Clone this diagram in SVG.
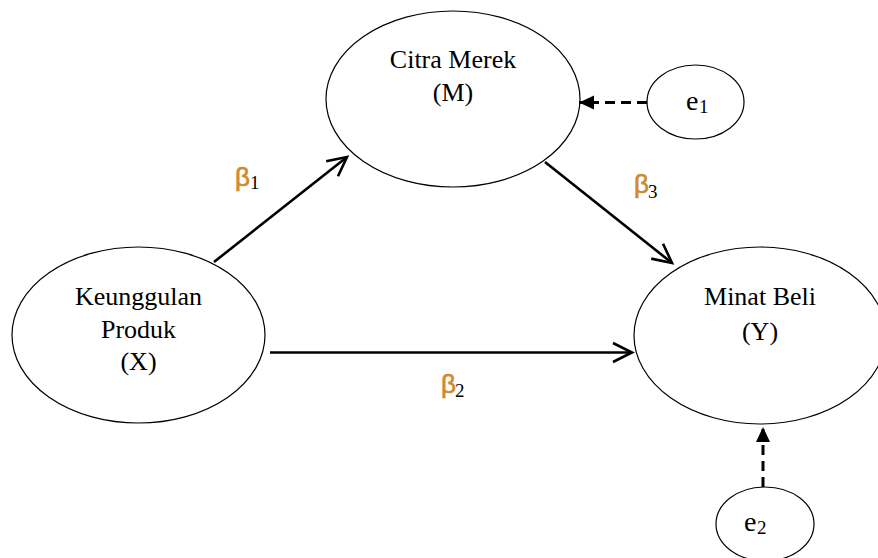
<svg xmlns="http://www.w3.org/2000/svg" width="878" height="558" viewBox="0 0 878 558">
<style>
.node ellipse{fill:#fff;stroke:#000;stroke-width:1.2}
.lbl{font-family:"Liberation Serif","Times New Roman",serif;font-size:26px;fill:#000;text-anchor:middle}
.e{font-family:"Liberation Serif","Times New Roman",serif;font-size:28px;fill:#000}
.sub{font-family:"Liberation Serif","Times New Roman",serif;font-size:19px;fill:#000}
.beta{font-family:"Liberation Sans",Arial,sans-serif;font-size:26px;fill:#cf8a30;stroke:#cf8a30;stroke-width:0.7}
.solid{stroke:#000;stroke-width:2.6;fill:none;marker-end:url(#open)}
.dash{stroke:#000;stroke-width:3;fill:none;stroke-dasharray:10 6;marker-end:url(#tri)}
</style>
<defs>
<marker id="open" markerUnits="userSpaceOnUse" viewBox="-3 -13 26 26" markerWidth="26" markerHeight="26" refX="19" refY="0" orient="auto">
<path d="M0,-9.5 L19,0 L0,9.5" fill="none" stroke="#000" stroke-width="2.6" stroke-linejoin="miter"/>
</marker>
<marker id="tri" markerUnits="userSpaceOnUse" viewBox="0 -8 16 16" markerWidth="16" markerHeight="16" refX="15" refY="0" orient="auto">
<path d="M0,-7 L15,0 L0,7 z" fill="#000"/>
</marker>
</defs>
<rect width="878" height="558" fill="#fff"/>
<g id="M" class="node">
<ellipse cx="453" cy="99" rx="127" ry="88"/>
<text class="lbl" x="453" y="68">Citra Merek</text>
<text class="lbl" x="453" y="101">(M)</text>
</g>
<g id="X" class="node">
<ellipse cx="138.5" cy="335" rx="126.5" ry="88"/>
<text class="lbl" x="138.5" y="305">Keunggulan</text>
<text class="lbl" x="138.5" y="338">Produk</text>
<text class="lbl" x="138.5" y="370">(X)</text>
</g>
<g id="Y" class="node">
<ellipse cx="760" cy="335.5" rx="126" ry="88.5"/>
<text class="lbl" x="760" y="305">Minat Beli</text>
<text class="lbl" x="760" y="340">(Y)</text>
</g>
<g id="e1" class="node">
<ellipse cx="695.5" cy="102" rx="48.5" ry="37"/>
<text class="e" x="686" y="110">e</text><text class="sub" x="699" y="113">1</text>
</g>
<g id="e2" class="node">
<ellipse cx="765" cy="524" rx="49" ry="37"/>
<text class="e" x="744" y="531">e</text><text class="sub" x="757" y="534">2</text>
</g>
<g id="connectors">
<line class="solid" x1="214" y1="262" x2="347" y2="157"/>
<line class="solid" x1="545" y1="162" x2="672" y2="263"/>
<line class="solid" x1="270" y1="352.5" x2="632" y2="352.5"/>
<line class="dash" x1="647" y1="102.5" x2="579" y2="102.5"/>
<line class="dash" x1="763" y1="487" x2="763" y2="427"/>
</g>
<g id="labels">
<text class="beta" x="235" y="186">β</text><text class="sub" x="250" y="189">1</text>
<text class="beta" x="634" y="193">β</text><text class="sub" x="648" y="198">3</text>
<text class="beta" x="441" y="393">β</text><text class="sub" x="455" y="397">2</text>
</g>
</svg>
